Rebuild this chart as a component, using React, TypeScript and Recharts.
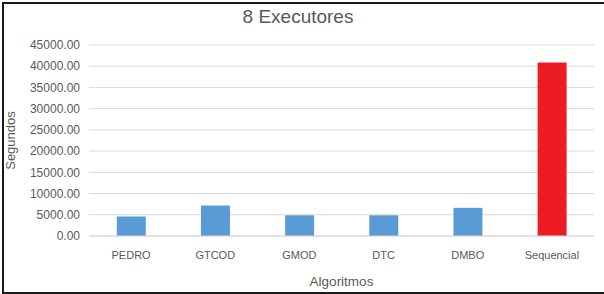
import React from 'react';
import { BarChart, Bar, XAxis, YAxis, CartesianGrid, Cell } from 'recharts';

const categories = ['PEDRO', 'GTCOD', 'GMOD', 'DTC', 'DMBO', 'Sequencial'];
const seconds = [4570, 7180, 4880, 4880, 6630, 40850];
const barColors = ['#5b9bd5', '#5b9bd5', '#5b9bd5', '#5b9bd5', '#5b9bd5', '#ed1c24'];
const yTicks = [0, 5000, 10000, 15000, 20000, 25000, 30000, 35000, 40000, 45000];
const title = '8 Executores';
const xTitle = 'Algoritmos';
const yTitle = 'Segundos';

const data = categories.map((c, i) => ({ name: c, value: seconds[i] }));

const FONT = '"Liberation Sans", Arial, sans-serif';
const TEXT = '#595959';

export default function App() {
  return (
    <div style={{ position: 'fixed', left: 0, top: 0, width: 604, height: 294, background: '#fff', overflow: 'hidden' }}>
      <div
        style={{
          position: 'absolute',
          left: 2,
          top: 2,
          width: 620,
          height: 288,
          borderTop: '2px solid #1a1a1a',
          borderLeft: '2px solid #1a1a1a',
          borderBottom: '2px solid #1a1a1a',
        }}
      />
      <div
        style={{
          position: 'absolute',
          left: 0,
          top: 7,
          width: 596,
          textAlign: 'center',
          fontFamily: FONT,
          fontSize: 19,
          lineHeight: '19px',
          color: TEXT,
        }}
      >
        {title}
      </div>
      <div style={{ position: 'absolute', left: 0, top: 0 }}>
        <BarChart
          width={604}
          height={294}
          data={data}
          margin={{ top: 45, right: 10, left: 0, bottom: 0 }}
          barCategoryGap="33%"
        >
          <CartesianGrid vertical={false} stroke="#d9d9d9" strokeWidth={1} />
          <XAxis
            dataKey="name"
            height={58}
            tickLine={false}
            axisLine={{ stroke: '#d9d9d9' }}
            tickMargin={9}
            tick={{ fill: TEXT, fontSize: 11, fontFamily: FONT }}
            interval={0}
            label={{ value: xTitle, position: 'insideBottom', offset: 8, fill: TEXT, fontSize: 13.5, fontFamily: FONT }}
          />
          <YAxis
            width={89}
            domain={[0, 45000]}
            ticks={yTicks}
            interval={0}
            tickLine={false}
            axisLine={false}
            tickMargin={3}
            tickFormatter={(v: number) => v.toFixed(2)}
            tick={{ fill: TEXT, fontSize: 12, fontFamily: FONT }}
            label={{
              value: yTitle,
              angle: -90,
              position: 'insideLeft',
              offset: 10,
              fill: TEXT,
              fontSize: 13,
              fontFamily: FONT,
              style: { textAnchor: 'middle' },
            }}
          />
          <Bar dataKey="value" isAnimationActive={false}>
            {data.map((d, i) => (
              <Cell key={d.name} fill={barColors[i]} />
            ))}
          </Bar>
        </BarChart>
      </div>
    </div>
  );
}
